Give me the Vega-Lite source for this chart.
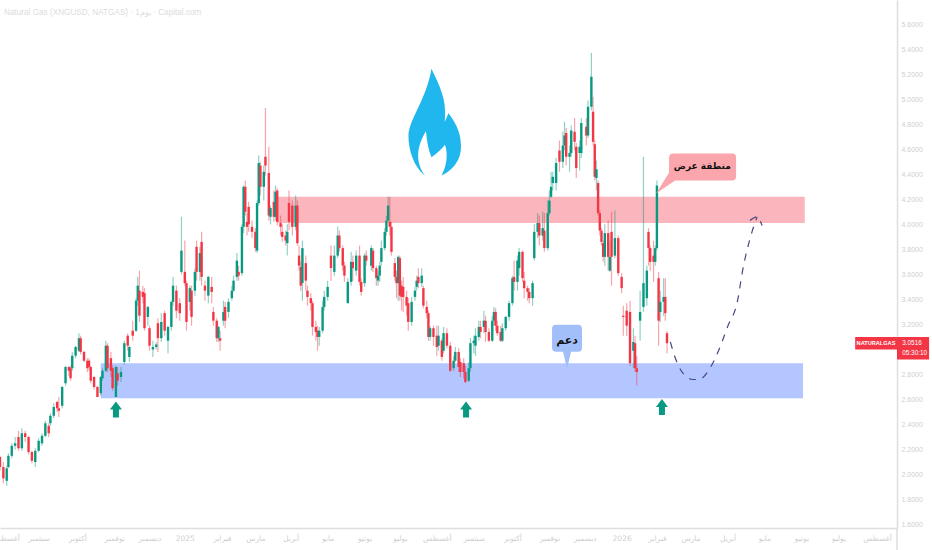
{"$schema":"https://vega.github.io/schema/vega-lite/v6.json","width":897,"height":528,"autosize":"none","padding":{"left":0,"top":0,"right":35,"bottom":22},"background":"white","config":{"view":{"stroke":null}},
"datasets":{"candles":[
{"i":0,"o":2.14,"h":2.15,"l":2.03,"c":2.06},{"i":2,"o":2.06,"h":2.10,"l":1.93,"c":1.97},{"i":4,"o":1.95,"h":2.07,"l":1.91,"c":2.05},{"i":5,"o":2.06,"h":2.17,"l":2.05,"c":2.15},{"i":7,"o":2.15,"h":2.25,"l":2.13,"c":2.23},{"i":9,"o":2.23,"h":2.30,"l":2.20,"c":2.25},{"i":11,"o":2.30,"h":2.35,"l":2.19,"c":2.21},{"i":13,"o":2.21,"h":2.37,"l":2.19,"c":2.33},{"i":15,"o":2.33,"h":2.35,"l":2.26,"c":2.30},{"i":17,"o":2.30,"h":2.31,"l":2.16,"c":2.18},{"i":19,"o":2.18,"h":2.19,"l":2.09,"c":2.11},{"i":21,"o":2.10,"h":2.21,"l":2.06,"c":2.19},{"i":23,"o":2.19,"h":2.29,"l":2.18,"c":2.27},{"i":25,"o":2.25,"h":2.33,"l":2.23,"c":2.31},{"i":27,"o":2.31,"h":2.43,"l":2.30,"c":2.41},{"i":29,"o":2.39,"h":2.41,"l":2.30,"c":2.33},{"i":30,"o":2.41,"h":2.49,"l":2.39,"c":2.47},{"i":32,"o":2.47,"h":2.57,"l":2.45,"c":2.54},{"i":34,"o":2.58,"h":2.59,"l":2.50,"c":2.53},{"i":35,"o":2.53,"h":2.62,"l":2.46,"c":2.51},{"i":37,"o":2.55,"h":2.71,"l":2.53,"c":2.70},{"i":39,"o":2.73,"h":2.87,"l":2.71,"c":2.86},{"i":41,"o":2.86,"h":2.87,"l":2.79,"c":2.83},{"i":42,"o":2.85,"h":2.87,"l":2.75,"c":2.77},{"i":43,"o":2.85,"h":2.98,"l":2.83,"c":2.95},{"i":45,"o":2.95,"h":3.03,"l":2.93,"c":3.02},{"i":47,"o":2.99,"h":3.13,"l":2.98,"c":3.09},{"i":48,"o":3.09,"h":3.11,"l":2.96,"c":2.98},{"i":50,"o":2.98,"h":2.99,"l":2.90,"c":2.91},{"i":52,"o":2.91,"h":2.93,"l":2.82,"c":2.85},{"i":53,"o":2.91,"h":2.93,"l":2.83,"c":2.86},{"i":54,"o":2.86,"h":2.87,"l":2.73,"c":2.75},{"i":56,"o":2.78,"h":2.79,"l":2.68,"c":2.70},{"i":58,"o":2.70,"h":2.71,"l":2.62,"c":2.62},{"i":60,"o":2.65,"h":2.79,"l":2.63,"c":2.78},{"i":61,"o":2.77,"h":2.85,"l":2.75,"c":2.83},{"i":63,"o":2.83,"h":3.07,"l":2.82,"c":3.03},{"i":64,"o":3.03,"h":3.05,"l":2.82,"c":2.85},{"i":66,"o":2.93,"h":2.98,"l":2.78,"c":2.83},{"i":67,"o":2.85,"h":2.87,"l":2.67,"c":2.69},{"i":69,"o":2.62,"h":2.87,"l":2.62,"c":2.86},{"i":70,"o":2.81,"h":2.86,"l":2.71,"c":2.75},{"i":72,"o":2.78,"h":2.86,"l":2.74,"c":2.82},{"i":74,"o":2.90,"h":3.07,"l":2.88,"c":3.05},{"i":76,"o":3.11,"h":3.13,"l":2.99,"c":3.03},{"i":77,"o":2.94,"h":3.03,"l":2.90,"c":3.02},{"i":79,"o":3.15,"h":3.23,"l":3.07,"c":3.11},{"i":81,"o":3.15,"h":3.41,"l":3.14,"c":3.39},{"i":82,"o":3.39,"h":3.58,"l":3.35,"c":3.51},{"i":83,"o":3.47,"h":3.63,"l":3.22,"c":3.27},{"i":85,"o":3.46,"h":3.51,"l":3.37,"c":3.42},{"i":86,"o":3.45,"h":3.49,"l":3.15,"c":3.17},{"i":88,"o":3.26,"h":3.35,"l":3.19,"c":3.34},{"i":89,"o":3.17,"h":3.19,"l":2.99,"c":3.03},{"i":91,"o":3.00,"h":3.07,"l":2.94,"c":3.02},{"i":93,"o":3.02,"h":3.06,"l":3.00,"c":3.04},{"i":94,"o":3.21,"h":3.25,"l":2.98,"c":3.09},{"i":96,"o":3.09,"h":3.29,"l":3.06,"c":3.22},{"i":98,"o":3.29,"h":3.31,"l":3.11,"c":3.15},{"i":100,"o":3.07,"h":3.19,"l":2.97,"c":3.18},{"i":102,"o":3.18,"h":3.39,"l":3.15,"c":3.38},{"i":103,"o":3.38,"h":3.58,"l":3.35,"c":3.51},{"i":105,"o":3.47,"h":3.51,"l":3.25,"c":3.31},{"i":107,"o":3.37,"h":3.41,"l":3.23,"c":3.29},{"i":108,"o":3.62,"h":4.06,"l":3.60,"c":3.79},{"i":110,"o":3.62,"h":3.87,"l":3.51,"c":3.53},{"i":111,"o":3.53,"h":3.55,"l":3.15,"c":3.22},{"i":113,"o":3.38,"h":3.51,"l":3.31,"c":3.49},{"i":114,"o":3.47,"h":3.51,"l":3.19,"c":3.26},{"i":116,"o":3.47,"h":3.65,"l":3.43,"c":3.62},{"i":117,"o":3.82,"h":3.87,"l":3.55,"c":3.62},{"i":119,"o":3.62,"h":3.82,"l":3.55,"c":3.77},{"i":120,"o":3.86,"h":3.94,"l":3.51,"c":3.58},{"i":122,"o":3.51,"h":3.55,"l":3.39,"c":3.47},{"i":124,"o":3.43,"h":3.59,"l":3.37,"c":3.58},{"i":126,"o":3.50,"h":3.58,"l":3.37,"c":3.46},{"i":127,"o":3.30,"h":3.34,"l":3.19,"c":3.23},{"i":129,"o":3.23,"h":3.25,"l":3.06,"c":3.09},{"i":130,"o":3.09,"h":3.19,"l":3.06,"c":3.18},{"i":131,"o":3.09,"h":3.15,"l":2.99,"c":3.07},{"i":133,"o":3.23,"h":3.39,"l":3.19,"c":3.30},{"i":134,"o":3.34,"h":3.38,"l":3.17,"c":3.23},{"i":136,"o":3.30,"h":3.41,"l":3.25,"c":3.38},{"i":138,"o":3.41,"h":3.51,"l":3.39,"c":3.47},{"i":139,"o":3.47,"h":3.59,"l":3.46,"c":3.55},{"i":141,"o":3.58,"h":3.77,"l":3.55,"c":3.71},{"i":142,"o":3.62,"h":3.67,"l":3.55,"c":3.59},{"i":144,"o":3.61,"h":4.00,"l":3.59,"c":3.98},{"i":145,"o":3.98,"h":4.31,"l":3.93,"c":4.30},{"i":146,"o":4.30,"h":4.35,"l":4.07,"c":4.10},{"i":147,"o":4.02,"h":4.09,"l":3.91,"c":3.98},{"i":148,"o":4.14,"h":4.18,"l":3.94,"c":4.00},{"i":150,"o":3.98,"h":4.03,"l":3.89,"c":3.94},{"i":152,"o":3.94,"h":3.97,"l":3.78,"c":3.81},{"i":153,"o":3.79,"h":4.19,"l":3.77,"c":4.17},{"i":154,"o":4.17,"h":4.55,"l":4.15,"c":4.49},{"i":155,"o":4.47,"h":4.50,"l":4.23,"c":4.30},{"i":157,"o":4.30,"h":4.47,"l":4.19,"c":4.42},{"i":158,"o":4.54,"h":4.93,"l":4.39,"c":4.47},{"i":160,"o":4.41,"h":4.62,"l":4.03,"c":4.07},{"i":161,"o":4.06,"h":4.15,"l":4.00,"c":4.13},{"i":163,"o":4.18,"h":4.27,"l":4.02,"c":4.06},{"i":164,"o":4.06,"h":4.31,"l":4.03,"c":4.26},{"i":165,"o":4.27,"h":4.29,"l":3.99,"c":4.02},{"i":167,"o":4.01,"h":4.07,"l":3.91,"c":3.98},{"i":168,"o":3.94,"h":4.00,"l":3.86,"c":3.90},{"i":170,"o":3.91,"h":3.95,"l":3.83,"c":3.87},{"i":171,"o":3.85,"h":4.00,"l":3.75,"c":3.94},{"i":172,"o":4.17,"h":4.27,"l":3.95,"c":4.02},{"i":174,"o":4.15,"h":4.19,"l":3.91,"c":3.98},{"i":176,"o":3.98,"h":4.23,"l":3.95,"c":4.15},{"i":177,"o":4.15,"h":4.19,"l":3.83,"c":3.85},{"i":178,"o":3.75,"h":3.83,"l":3.63,"c":3.67},{"i":179,"o":3.66,"h":3.70,"l":3.47,"c":3.51},{"i":180,"o":3.53,"h":3.87,"l":3.39,"c":3.81},{"i":182,"o":3.69,"h":3.75,"l":3.47,"c":3.55},{"i":183,"o":3.47,"h":3.51,"l":3.35,"c":3.42},{"i":185,"o":3.41,"h":3.45,"l":3.31,"c":3.37},{"i":186,"o":3.37,"h":3.39,"l":3.11,"c":3.18},{"i":188,"o":3.18,"h":3.23,"l":3.07,"c":3.14},{"i":189,"o":3.15,"h":3.19,"l":2.99,"c":3.10},{"i":190,"o":3.10,"h":3.18,"l":3.03,"c":3.15},{"i":192,"o":3.15,"h":3.39,"l":3.13,"c":3.34},{"i":193,"o":3.34,"h":3.47,"l":3.31,"c":3.42},{"i":195,"o":3.42,"h":3.55,"l":3.39,"c":3.50},{"i":197,"o":3.75,"h":3.83,"l":3.55,"c":3.65},{"i":199,"o":3.62,"h":3.83,"l":3.59,"c":3.75},{"i":201,"o":3.75,"h":3.98,"l":3.73,"c":3.91},{"i":202,"o":3.91,"h":3.95,"l":3.78,"c":3.81},{"i":204,"o":3.81,"h":3.83,"l":3.63,"c":3.67},{"i":205,"o":3.67,"h":3.70,"l":3.54,"c":3.59},{"i":207,"o":3.37,"h":3.57,"l":3.37,"c":3.54},{"i":209,"o":3.54,"h":3.78,"l":3.51,"c":3.70},{"i":210,"o":3.70,"h":3.75,"l":3.55,"c":3.65},{"i":212,"o":3.63,"h":3.79,"l":3.59,"c":3.75},{"i":214,"o":3.75,"h":3.83,"l":3.51,"c":3.54},{"i":215,"o":3.54,"h":3.57,"l":3.43,"c":3.46},{"i":217,"o":3.53,"h":3.77,"l":3.50,"c":3.75},{"i":218,"o":3.75,"h":3.79,"l":3.67,"c":3.71},{"i":221,"o":3.67,"h":3.83,"l":3.63,"c":3.81},{"i":222,"o":3.79,"h":3.81,"l":3.62,"c":3.65},{"i":224,"o":3.65,"h":3.67,"l":3.51,"c":3.57},{"i":225,"o":3.55,"h":3.63,"l":3.51,"c":3.59},{"i":226,"o":3.59,"h":3.70,"l":3.54,"c":3.67},{"i":227,"o":3.70,"h":3.87,"l":3.67,"c":3.81},{"i":229,"o":3.81,"h":3.97,"l":3.79,"c":3.94},{"i":230,"o":3.94,"h":4.07,"l":3.91,"c":4.03},{"i":231,"o":4.03,"h":4.22,"l":4.02,"c":4.15},{"i":232,"o":4.02,"h":4.22,"l":3.91,"c":3.98},{"i":233,"o":3.98,"h":4.02,"l":3.75,"c":3.78},{"i":235,"o":3.69,"h":3.73,"l":3.55,"c":3.58},{"i":236,"o":3.58,"h":3.63,"l":3.41,"c":3.53},{"i":237,"o":3.53,"h":3.75,"l":3.39,"c":3.74},{"i":238,"o":3.73,"h":3.75,"l":3.39,"c":3.43},{"i":239,"o":3.51,"h":3.55,"l":3.31,"c":3.42},{"i":240,"o":3.50,"h":3.58,"l":3.30,"c":3.42},{"i":242,"o":3.42,"h":3.47,"l":3.27,"c":3.35},{"i":243,"o":3.37,"h":3.41,"l":3.15,"c":3.22},{"i":245,"o":3.22,"h":3.42,"l":3.19,"c":3.38},{"i":247,"o":3.42,"h":3.50,"l":3.39,"c":3.47},{"i":248,"o":3.50,"h":3.59,"l":3.47,"c":3.55},{"i":249,"o":3.58,"h":3.65,"l":3.49,"c":3.53},{"i":251,"o":3.53,"h":3.65,"l":3.50,"c":3.59},{"i":252,"o":3.49,"h":3.51,"l":3.33,"c":3.35},{"i":254,"o":3.34,"h":3.39,"l":3.25,"c":3.29},{"i":255,"o":3.29,"h":3.31,"l":3.07,"c":3.10},{"i":256,"o":3.10,"h":3.19,"l":3.07,"c":3.17},{"i":258,"o":3.17,"h":3.19,"l":3.03,"c":3.10},{"i":260,"o":3.11,"h":3.19,"l":2.95,"c":3.02},{"i":261,"o":3.03,"h":3.19,"l":2.99,"c":3.11},{"i":263,"o":3.07,"h":3.09,"l":2.91,"c":2.94},{"i":264,"o":2.99,"h":3.18,"l":2.97,"c":3.13},{"i":266,"o":3.13,"h":3.17,"l":3.01,"c":3.03},{"i":268,"o":3.03,"h":3.06,"l":2.82,"c":2.83},{"i":270,"o":2.85,"h":2.95,"l":2.83,"c":2.91},{"i":271,"o":2.91,"h":3.02,"l":2.90,"c":2.98},{"i":273,"o":2.98,"h":3.01,"l":2.82,"c":2.86},{"i":274,"o":2.90,"h":2.93,"l":2.78,"c":2.82},{"i":276,"o":2.89,"h":2.93,"l":2.77,"c":2.82},{"i":277,"o":2.82,"h":2.87,"l":2.73,"c":2.74},{"i":279,"o":2.75,"h":2.90,"l":2.74,"c":2.85},{"i":280,"o":2.85,"h":3.09,"l":2.82,"c":3.05},{"i":282,"o":3.05,"h":3.11,"l":2.97,"c":3.07},{"i":283,"o":3.03,"h":3.17,"l":2.95,"c":3.11},{"i":285,"o":3.10,"h":3.23,"l":3.07,"c":3.18},{"i":286,"o":3.18,"h":3.23,"l":3.09,"c":3.14},{"i":288,"o":3.18,"h":3.31,"l":3.13,"c":3.23},{"i":289,"o":3.23,"h":3.27,"l":3.06,"c":3.14},{"i":291,"o":3.14,"h":3.17,"l":3.06,"c":3.07},{"i":293,"o":3.07,"h":3.27,"l":3.06,"c":3.23},{"i":294,"o":3.23,"h":3.34,"l":3.19,"c":3.30},{"i":295,"o":3.30,"h":3.33,"l":3.15,"c":3.19},{"i":296,"o":3.19,"h":3.23,"l":3.11,"c":3.13},{"i":298,"o":3.14,"h":3.19,"l":3.06,"c":3.07},{"i":299,"o":3.07,"h":3.21,"l":3.06,"c":3.17},{"i":301,"o":3.17,"h":3.27,"l":3.15,"c":3.26},{"i":303,"o":3.26,"h":3.39,"l":3.23,"c":3.37},{"i":305,"o":3.37,"h":3.59,"l":3.35,"c":3.57},{"i":306,"o":3.58,"h":3.71,"l":3.47,"c":3.54},{"i":308,"o":3.54,"h":3.75,"l":3.47,"c":3.71},{"i":309,"o":3.65,"h":3.81,"l":3.59,"c":3.78},{"i":311,"o":3.78,"h":3.79,"l":3.54,"c":3.57},{"i":312,"o":3.55,"h":3.62,"l":3.41,"c":3.49},{"i":314,"o":3.49,"h":3.51,"l":3.39,"c":3.46},{"i":315,"o":3.46,"h":3.49,"l":3.37,"c":3.41},{"i":317,"o":3.41,"h":3.55,"l":3.35,"c":3.53},{"i":318,"o":3.73,"h":4.00,"l":3.71,"c":3.94},{"i":320,"o":3.94,"h":4.09,"l":3.89,"c":4.01},{"i":321,"o":4.01,"h":4.07,"l":3.83,"c":3.91},{"i":323,"o":3.91,"h":4.10,"l":3.87,"c":3.97},{"i":324,"o":3.95,"h":4.09,"l":3.78,"c":3.81},{"i":326,"o":3.81,"h":4.19,"l":3.79,"c":4.09},{"i":327,"o":4.09,"h":4.27,"l":4.07,"c":4.19},{"i":328,"o":4.22,"h":4.42,"l":4.21,"c":4.30},{"i":329,"o":4.33,"h":4.42,"l":4.27,"c":4.38},{"i":331,"o":4.33,"h":4.53,"l":4.27,"c":4.49},{"i":333,"o":4.59,"h":4.67,"l":4.42,"c":4.50},{"i":335,"o":4.50,"h":4.74,"l":4.45,"c":4.63},{"i":336,"o":4.63,"h":4.82,"l":4.59,"c":4.71},{"i":337,"o":4.73,"h":4.77,"l":4.47,"c":4.54},{"i":339,"o":4.54,"h":4.63,"l":4.42,"c":4.57},{"i":340,"o":4.57,"h":4.79,"l":4.54,"c":4.75},{"i":342,"o":4.74,"h":4.85,"l":4.59,"c":4.66},{"i":343,"o":4.62,"h":4.65,"l":4.37,"c":4.45},{"i":345,"o":4.57,"h":4.67,"l":4.43,"c":4.62},{"i":346,"o":4.57,"h":4.85,"l":4.53,"c":4.81},{"i":349,"o":4.78,"h":4.85,"l":4.63,"c":4.71},{"i":350,"o":4.71,"h":4.99,"l":4.69,"c":4.94},{"i":352,"o":4.94,"h":5.37,"l":4.91,"c":5.18},{"i":353,"o":4.90,"h":5.02,"l":4.63,"c":4.66},{"i":354,"o":4.64,"h":4.67,"l":4.35,"c":4.38},{"i":355,"o":4.37,"h":4.51,"l":4.27,"c":4.44},{"i":356,"o":4.33,"h":4.35,"l":4.07,"c":4.09},{"i":357,"o":4.09,"h":4.11,"l":3.91,"c":3.95},{"i":358,"o":3.95,"h":3.97,"l":3.83,"c":3.86},{"i":359,"o":3.85,"h":3.87,"l":3.70,"c":3.74},{"i":360,"o":3.74,"h":4.00,"l":3.67,"c":3.93},{"i":362,"o":3.93,"h":4.03,"l":3.63,"c":3.74},{"i":363,"o":3.63,"h":3.87,"l":3.62,"c":3.74},{"i":364,"o":3.94,"h":4.10,"l":3.51,"c":3.74},{"i":366,"o":3.75,"h":4.11,"l":3.73,"c":3.89},{"i":368,"o":3.89,"h":3.91,"l":3.59,"c":3.61},{"i":370,"o":3.58,"h":3.61,"l":3.45,"c":3.49},{"i":371,"o":3.27,"h":3.35,"l":3.11,"c":3.26},{"i":373,"o":3.31,"h":3.37,"l":3.11,"c":3.19},{"i":375,"o":3.30,"h":3.39,"l":2.87,"c":2.89},{"i":377,"o":2.99,"h":3.17,"l":2.85,"c":3.06},{"i":378,"o":3.05,"h":3.11,"l":2.82,"c":2.85},{"i":379,"o":2.85,"h":2.95,"l":2.71,"c":2.82},{"i":381,"o":3.23,"h":3.47,"l":3.07,"c":3.30},{"i":383,"o":3.34,"h":4.54,"l":3.30,"c":3.53},{"i":385,"o":3.41,"h":3.67,"l":3.35,"c":3.63},{"i":386,"o":3.94,"h":3.97,"l":3.67,"c":3.81},{"i":387,"o":3.81,"h":3.83,"l":3.63,"c":3.70},{"i":389,"o":3.75,"h":3.87,"l":3.54,"c":3.70},{"i":390,"o":3.70,"h":3.83,"l":3.67,"c":3.81},{"i":391,"o":3.81,"h":4.35,"l":3.79,"c":4.31},{"i":392,"o":3.57,"h":3.62,"l":3.03,"c":3.23},{"i":393,"o":3.30,"h":3.47,"l":3.22,"c":3.38},{"i":395,"o":3.38,"h":3.57,"l":3.27,"c":3.42},{"i":396,"o":3.42,"h":3.57,"l":3.23,"c":3.29},{"i":397,"o":3.13,"h":3.15,"l":2.97,"c":3.05}
],"path":[{"i":399,"p":3.06,"s":"a","k":1},{"i":402,"p":2.93,"s":"a","k":2},{"i":406.5,"p":2.81,"s":"a","k":3},{"i":412.5,"p":2.76,"s":"a","k":4},{"i":416,"p":2.76,"s":"a","k":5},{"i":422.6,"p":2.85,"s":"a","k":6},{"i":428.6,"p":3.02,"s":"a","k":7},{"i":433,"p":3.18,"s":"a","k":8},{"i":439,"p":3.39,"s":"a","k":9},{"i":442,"p":3.63,"s":"a","k":10},{"i":447.6,"p":3.94,"s":"a","k":11},{"i":450.6,"p":4.06,"s":"a","k":12},{"i":446.4,"p":4.03,"s":"b","k":1},{"i":450.6,"p":4.06,"s":"b","k":2},{"i":453.6,"p":3.99,"s":"b","k":3}]},
"encoding":{"x":{"field":"i","type":"quantitative","title":null,"scale":{"domain":[0,533.9],"nice":false,"zero":false},"axis":{"orient":"bottom","grid":false,"ticks":false,"domainColor":"#dedede","domainWidth":1.5,"labelColor":"#cfcfcf","labelFont":"DejaVu Sans","labelFontSize":7.5,"labelPadding":6,"labelOverlap":false,"labelBound":false,"labelFlush":false,"values":[3,23,46,68,89,110,132,152,173,195,217,238,260,282,305,327,348,370,391,411,433,455,477,499,522],"labelExpr":"{'3':'أغسطس','23':'سبتمبر','46':'أكتوبر','68':'نوفمبر','89':'ديسمبر','110':'2025','132':'فبراير','152':'مارس','173':'أبريل','195':'مايو','217':'يونيو','238':'يوليو','260':'أغسطس','282':'سبتمبر','305':'أكتوبر','327':'نوفمبر','348':'ديسمبر','370':'2026','391':'فبراير','411':'مارس','433':'أبريل','455':'مايو','477':'يونيو','499':'يوليو','522':'أغسطس'}[''+datum.value]"}},"y":{"field":"p","type":"quantitative","title":null,"scale":{"domain":[1.573,5.793],"nice":false,"zero":false},"axis":{"orient":"right","grid":false,"ticks":false,"domainColor":"#dedede","domainWidth":1.5,"labelColor":"#cfcfcf","labelFont":"Liberation Sans","labelFontSize":7,"labelPadding":4,"format":".4f","values":[1.6,1.8,2,2.2,2.4,2.6,2.8,3,3.2,3.4,3.6,3.8,4,4.2,4.4,4.6,4.8,5,5.2,5.4,5.6]}}},
"layer":[
{"data":{"values":[{"i":533.9,"p":1.573,"p2":1.397}]},"mark":{"type":"rule","color":"#dedede","strokeWidth":1.5,"clip":false},"encoding":{"y2":{"field":"p2"}}},
{"data":{"values":[{"i":165,"i2":479,"p":4.01,"p2":4.22,"z":"s"},{"i":60,"i2":478,"p":2.61,"p2":2.89,"z":"d"}]},"mark":{"type":"rect"},"encoding":{"x2":{"field":"i2"},"y2":{"field":"p2"},"color":{"field":"z","type":"nominal","legend":null,"scale":{"domain":["s","d"],"range":["#fbb5bc","#b3c6ff"]}}}},
{"data":{"name":"candles"},"mark":{"type":"rule","strokeWidth":1.2,"opacity":0.45},"encoding":{"y":{"field":"l","type":"quantitative","title":null,"axis":{"orient":"right","grid":false,"ticks":false,"domainColor":"#dedede","domainWidth":1.5,"labelColor":"#cfcfcf","labelFont":"Liberation Sans","labelFontSize":7,"labelPadding":4,"format":".4f","values":[1.6,1.8,2,2.2,2.4,2.6,2.8,3,3.2,3.4,3.6,3.8,4,4.2,4.4,4.6,4.8,5,5.2,5.4,5.6]}},"y2":{"field":"h"},"color":{"condition":{"test":"datum.c>=datum.o","value":"#089981"},"value":"#f23645"}}},
{"data":{"name":"candles"},"mark":{"type":"rule","strokeWidth":2.4},"encoding":{"y":{"field":"o","type":"quantitative","title":null,"axis":{"orient":"right","grid":false,"ticks":false,"domainColor":"#dedede","domainWidth":1.5,"labelColor":"#cfcfcf","labelFont":"Liberation Sans","labelFontSize":7,"labelPadding":4,"format":".4f","values":[1.6,1.8,2,2.2,2.4,2.6,2.8,3,3.2,3.4,3.6,3.8,4,4.2,4.4,4.6,4.8,5,5.2,5.4,5.6]}},"y2":{"field":"c"},"color":{"condition":{"test":"datum.c>=datum.o","value":"#089981"},"value":"#f23645"}}},
{"data":{"name":"path"},"mark":{"type":"line","color":"#4a4580","strokeWidth":1.2,"strokeDash":[7,7],"interpolate":"monotone"},"encoding":{"detail":{"field":"s"},"order":{"field":"k"}}},
{"data":{"values":[{"i":258.3,"p":4.82}]},"mark":{"type":"point","filled":true,"opacity":1,"size":10000,"color":"#20b6ee","shape":"M-0.05 -1.06 C0.12 -0.71 0.25 -0.44 0.22 -0.07 Q0.22 0.13 0.12 0.23 L0.29 -0.17 C0.49 0.09 0.54 0.29 0.54 0.49 C0.54 0.83 0.32 0.99 0.15 1.08 C0.25 0.89 0.29 0.66 0.22 0.46 Q0.12 0.59 -0.05 0.71 Q-0.13 0.53 -0.16 0.19 C-0.31 0.43 -0.41 0.76 -0.18 1.08 C-0.41 0.89 -0.51 0.56 -0.51 0.29 C-0.51 -0.04 -0.15 -0.44 -0.05 -1.06 Z"}},
{"data":{"values":[{"i":416.7,"p":4.43}]},"mark":{"type":"point","filled":true,"opacity":1,"size":10000,"color":"#fba6ad","shape":"M-0.54 -0.34 L0.64 -0.34 Q0.72 -0.34 0.72 -0.26 L0.72 0.12 Q0.72 0.2 0.64 0.2 L-0.5 0.2 L-0.88 0.46 L-0.62 0.04 L-0.62 -0.26 Q-0.62 -0.34 -0.54 -0.34 Z"}},
{"data":{"values":[{"i":337.5,"p":3.07}]},"mark":{"type":"point","filled":true,"opacity":1,"size":10000,"color":"#a3bffa","shape":"M-0.22 -0.32 L0.22 -0.32 Q0.3 -0.32 0.3 -0.24 L0.3 0.14 Q0.3 0.22 0.22 0.22 L0.08 0.22 L0 0.56 L-0.08 0.22 L-0.22 0.22 Q-0.3 0.22 -0.3 0.14 L-0.3 -0.24 Q-0.3 -0.32 -0.22 -0.32 Z"}},
{"data":{"values":[{"i":69,"p":2.52},{"i":277.4,"p":2.52},{"i":394,"p":2.54}]},"mark":{"type":"point","filled":true,"opacity":1,"size":10000,"color":"#089981","shape":"M0 -0.16 L0.12 0 L0.06 0 L0.06 0.16 L-0.06 0.16 L-0.06 0 L-0.12 0 Z"}},
{"data":{"values":[{"i":418,"p":4.47,"t":"منطقة عرض"}]},"mark":{"type":"text","font":"DejaVu Sans","fontWeight":"bold","fontSize":9,"color":"#111111"},"encoding":{"text":{"field":"t"}}},
{"data":{"values":[{"i":337.5,"p":3.07,"t":"دعم"}]},"mark":{"type":"text","font":"DejaVu Sans","fontWeight":"bold","fontSize":11,"color":"#111111"},"encoding":{"text":{"field":"t"}}},
{"data":{"values":[{"i":2.4,"p":5.689,"t":"Natural Gas (XNGUSD, NATGAS) · 1يوم · Capital.com"}]},"mark":{"type":"text","font":"Liberation Sans","fontSize":8.2,"align":"left","color":"#dcdcdc"},"encoding":{"text":{"field":"t"}}},
{"data":{"values":[{"i":509,"i2":533.9,"p":3.10,"p2":3.0},{"i":533.9,"i2":553,"p":3.10,"p2":2.92}]},"mark":{"type":"rect","color":"#f23645","clip":false},"encoding":{"x2":{"field":"i2"},"y2":{"field":"p2"}}},
{"data":{"values":[{"i":521.4,"p":3.05,"t":"NATURALGAS"}]},"mark":{"type":"text","font":"Liberation Sans","fontSize":5.6,"fontWeight":"bold","color":"white"},"encoding":{"text":{"field":"t"}}},
{"data":{"values":[{"i":537,"p":3.055,"t":"3.0516"},{"i":537,"p":2.97,"t":"05:30:10"}]},"mark":{"type":"text","font":"Liberation Sans","fontSize":6.4,"align":"left","color":"white"},"encoding":{"text":{"field":"t"}}}
]}
